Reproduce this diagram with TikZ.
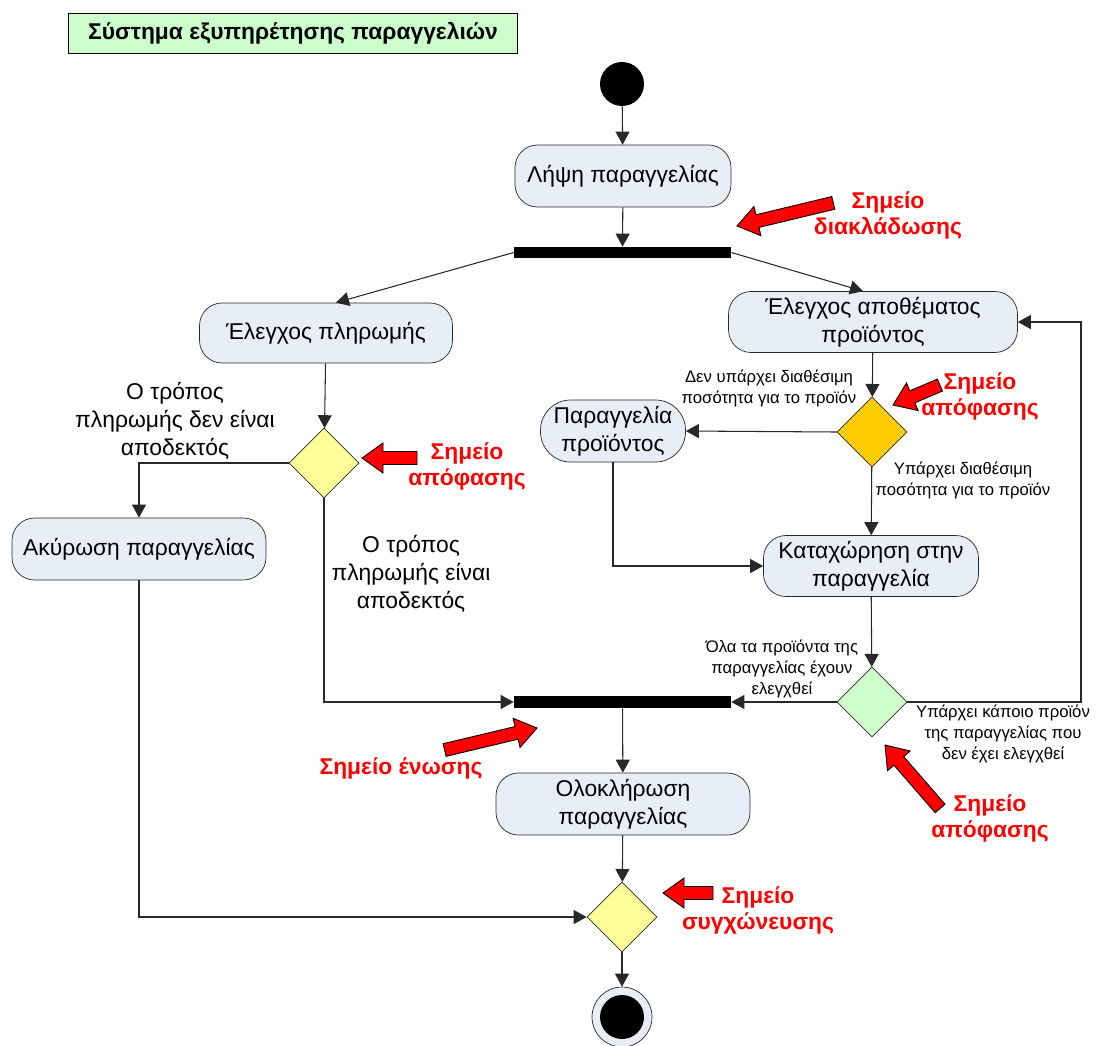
\documentclass[tikz,border=0pt]{standalone}
\usepackage{fontspec}
\setmainfont{Liberation Sans}
\usetikzlibrary{shapes.geometric,arrows.meta}

\definecolor{actfill}{RGB}{232,238,248}
\definecolor{titlegreen}{RGB}{204,255,204}
\definecolor{decyellow}{RGB}{255,255,153}
\definecolor{decorange}{RGB}{255,204,0}
\definecolor{decgreen}{RGB}{204,255,204}
\definecolor{linegray}{RGB}{40,40,40}

\tikzset{
  activity/.style={draw=linegray, fill=actfill, rounded corners=0.45cm, minimum height=1.24cm,
    align=center, inner sep=2pt, font=\fontsize{13}{15.9}\selectfont},
  decision/.style={diamond, draw=linegray, minimum width=1.4cm, minimum height=1.4cm, inner sep=0pt},
  syncbar/.style={fill=black, minimum width=4.34cm, minimum height=0.22cm, inner sep=0pt},
  flow/.style={draw=linegray, line width=0.6pt, -{Triangle[length=0.26cm,width=0.28cm]}},
  guard/.style={align=center, inner sep=0pt, font=\fontsize{9.5}{11.9}\selectfont},
  cond/.style={align=center, inner sep=0pt, font=\fontsize{13}{15.9}\selectfont},
  callout/.style={align=center, inner sep=0pt, text=red, font=\fontsize{13}{14.8}\selectfont\bfseries},
}

% red block arrow: tip, direction angle, length (px)
\newcommand{\pointer}[3]{%
  \begin{scope}[shift={#1}, rotate=#2]
    \filldraw[fill=red, draw=black, line width=0.5pt]
      (0,0) -- (-21,15) -- (-21,6.5) -- (-#3,6.5) -- (-#3,-6.5) -- (-21,-6.5) -- (-21,-15) -- cycle;
  \end{scope}}

\begin{document}
\begin{tikzpicture}[x=0.02cm, y=-0.02cm]

    \useasboundingbox (0,0) rectangle (1097,1045);

    % Title
    \node[draw, fill=titlegreen, minimum width=8.98cm, minimum height=0.8cm,
          font=\fontsize{13}{14}\selectfont\bfseries] (title) at (293,33) {Σύστημα εξυπηρέτησης παραγγελιών};

    % Start and end
    \node[circle, fill=black, minimum size=0.88cm, inner sep=0pt] (start) at (622,84) {};
    \node[circle, draw=linegray, fill=actfill, minimum size=1.2cm, inner sep=0pt] (end) at (622,1017) {};
    \node[circle, fill=black, minimum size=0.88cm, inner sep=0pt] (endin) at (622,1017) {};

    % Activities
    \node[activity, minimum width=4.32cm] (lipsi) at (623,176) {Λήψη παραγγελίας};
    \node[activity, minimum width=5.06cm, minimum height=1.2cm] (plirwmi) at (326,333) {Έλεγχος πληρωμής};
    \node[activity, minimum width=5.78cm, minimum height=1.22cm] (apothema) at (873,322) {Έλεγχος αποθέματος\\προϊόντος};
    \node[activity, minimum width=5.08cm] (akyrwsi) at (139,549) {Ακύρωση παραγγελίας};
    \node[activity, minimum width=2.9cm, rounded corners=0.6cm] (paraggelia) at (613,431) {Παραγγελία\\προϊόντος};
    \node[activity, minimum width=4.3cm, minimum height=1.22cm] (kataxwrisi) at (871,566) {Καταχώρηση στην\\παραγγελία};
    \node[activity, minimum width=5.08cm] (oloklirwsi) at (623,804) {Ολοκλήρωση\\παραγγελίας};

    % Fork and join bars
    \node[syncbar] (fork) at (622.5,252.5) {};
    \node[syncbar, minimum height=0.24cm] (join) at (622.5,702) {};

    % Decisions
    \node[decision, fill=decyellow] (apof1) at (324,463) {};
    \node[decision, fill=decorange] (apof2) at (872,432) {};
    \node[decision, fill=decgreen] (apof3) at (872,702) {};
    \node[decision, fill=decyellow] (apof4) at (622,917) {};
    \coordinate (loop) at (1081,702);

    % Flows
    \draw[flow] (start) -- (lipsi);
    \draw[flow] (lipsi) -- (fork);
    \draw[flow] (fork.west) -- ([xshift=0.2cm]plirwmi.north);
    \draw[flow] (fork.east) -- ([xshift=-0.2cm]apothema.north);
    \draw[flow] (plirwmi) -- (apof1);
    \draw[flow] (apof1.west) -| (akyrwsi.north);
    \draw[flow] (apof1.south) |- (join.west);
    \draw[flow] (apothema) -- (apof2);
    \draw[flow] (apof2.west) -- (paraggelia.east);
    \draw[flow] (apof2) -- (kataxwrisi);
    \draw[flow] (paraggelia.south) |- (kataxwrisi.west);
    \draw[flow] (kataxwrisi) -- (apof3);
    \draw[flow] (apof3.west) -- (join.east);
    \draw[flow] (apof3.east) -- (loop) |- (apothema.east);
    \draw[flow] (join) -- (oloklirwsi);
    \draw[flow] (oloklirwsi) -- (apof4);
    \draw[flow] (akyrwsi.south) |- (apof4.west);
    \draw[flow] (apof4) -- (end);

    % Guards
    \node[cond] (g1) at (175,421) {Ο τρόπος\\πληρωμής δεν είναι\\αποδεκτός};
    \node[cond] (g2) at (411,574) {Ο τρόπος\\πληρωμής είναι\\αποδεκτός};
    \node[guard] (g3) at (769,388) {Δεν υπάρχει διαθέσιμη\\ποσότητα για το προϊόν};
    \node[guard] (g4) at (963,480) {Υπάρχει διαθέσιμη\\ποσότητα για το προϊόν};
    \node[guard] (g5) at (782,669) {Όλα τα προϊόντα της\\παραγγελίας έχουν\\ελεγχθεί};
    \node[guard] (g6) at (1003,734) {Υπάρχει κάποιο προϊόν\\της παραγγελίας που\\δεν έχει ελεγχθεί};

    % Callouts
    \pointer{(737,226)}{193.5}{99}
    \node[callout] (c1) at (888,215) {Σημείο\\διακλάδωσης};
    \pointer{(362,458)}{180}{55}
    \node[callout] (c2) at (467,466) {Σημείο\\απόφασης};
    \pointer{(893,405)}{203}{51}
    \node[callout] (c3) at (980,396) {Σημείο\\απόφασης};
    \pointer{(885,745)}{131}{84}
    \node[callout] (c4) at (990,818) {Σημείο\\απόφασης};
    \pointer{(537,728)}{13.4}{95}
    \node[callout] (c5) at (401,768) {Σημείο ένωσης};
    \pointer{(663,893)}{180}{50}
    \node[callout] (c6) at (758,910) {Σημείο\\συγχώνευσης};

\end{tikzpicture}
\end{document}
